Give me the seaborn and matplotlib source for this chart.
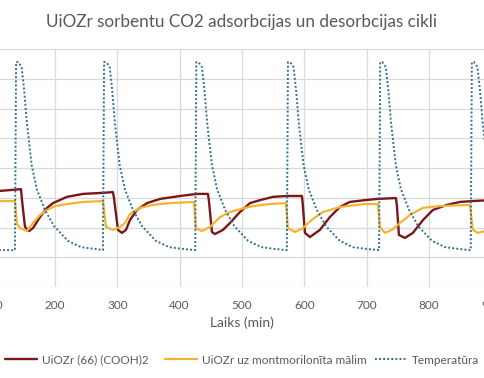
import matplotlib
matplotlib.use("Agg")
import matplotlib.pyplot as plt
import seaborn as sns

# UiOZr (66) (COOH)2 - time (min) and value
red_t = [100, 111.8, 145.5, 147.1, 151.9, 158.3, 164.7, 175.9, 187.2, 196.8, 219.2, 244.9, 272.2, 293.0,
         294.6, 301.1, 307.5, 313.9, 320.3, 331.5, 347.6, 368.4, 400.5, 427.8, 445.4,
         447.0, 451.8, 456.6, 469.5, 480.7, 496.7, 512.8, 528.8, 549.7, 572.1, 596.2,
         597.5, 601.0, 609.0, 625.0, 641.0, 657.0, 673.0, 697.0, 716.5, 747.0,
         748.5, 751.8, 761.4, 774.2, 790.3, 806.3, 828.8, 849.6, 870.5, 897.7, 920.0]
red_v = [3.22, 3.23, 3.29, 2.92, 2.02, 1.88, 1.98, 2.35, 2.66, 2.82, 3.03, 3.13, 3.16, 3.19,
         3.00, 1.92, 1.82, 1.92, 2.25, 2.59, 2.82, 2.96, 3.06, 3.13, 3.13,
         2.90, 1.85, 1.78, 1.92, 2.15, 2.52, 2.82, 2.92, 3.03, 3.06, 3.06,
         2.80, 1.82, 1.68, 1.92, 2.35, 2.69, 2.86, 2.92, 2.96, 2.99,
         2.75, 1.75, 1.65, 1.82, 2.25, 2.59, 2.76, 2.86, 2.89, 2.92, 2.94]

# UiOZr uz montmorilonita malim
yel_t = [100, 111.8, 135.8, 139.0, 143.9, 155.1, 164.7, 175.9, 187.2, 200.0, 219.2, 244.9, 277.0,
         281.8, 293.0, 304.3, 312.3, 320.3, 336.3, 357.2, 384.5, 423.0,
         426.2, 435.8, 448.6, 464.7, 480.7, 504.8, 517.6, 544.9, 570.5,
         573.7, 585.0, 597.8, 613.8, 629.9, 657.1, 697.2, 718.1,
         721.3, 729.3, 740.5, 753.4, 769.4, 790.3, 817.5, 865.7,
         870.5, 878.5, 897.7, 909.0, 925.0]
yel_v = [2.89, 2.89, 2.89, 2.12, 1.98, 1.88, 2.15, 2.42, 2.59, 2.72, 2.79, 2.86, 2.89,
         2.02, 1.92, 2.02, 2.15, 2.45, 2.66, 2.76, 2.82, 2.86,
         1.98, 1.88, 2.02, 2.35, 2.52, 2.66, 2.72, 2.79, 2.82,
         1.98, 1.85, 1.98, 2.29, 2.52, 2.69, 2.79, 2.79,
         2.02, 1.82, 1.92, 2.15, 2.42, 2.66, 2.72, 2.76,
         1.92, 1.82, 1.92, 2.10, 2.40]

# Temperatura
temp_t = [100, 135.8,
          137.6, 141.0, 146.5, 150.6, 155.0, 157.5, 162.6, 170.8, 183.9, 198.4, 220.8, 241.8, 264.1, 277.0,
          278.8, 282.2, 287.7, 291.8, 296.2, 298.7, 303.8, 312.0, 325.1, 339.6, 362.0, 383.0, 405.0, 425.0,
          426.8, 430.2, 435.7, 439.8, 444.2, 446.7, 451.8, 460.0, 473.1, 487.6, 510.0, 531.0, 553.0, 572.0,
          573.8, 577.2, 582.7, 586.8, 591.2, 593.7, 598.8, 607.0, 620.1, 634.6, 657.0, 678.0, 700.0, 720.0,
          721.8, 725.2, 730.7, 734.8, 739.2, 741.7, 746.8, 755.0, 768.1, 782.6, 805.0, 826.0, 848.0, 867.0,
          868.8, 872.2, 877.7, 881.8, 886.2, 888.7, 893.8, 902.0, 915.1]
temp_v = [1.24, 1.24,
          7.56, 7.56, 7.40, 6.62, 5.51, 5.04, 4.10, 3.29, 2.59, 2.05, 1.55, 1.34, 1.28, 1.24,
          7.56, 7.56, 7.40, 6.62, 5.51, 5.04, 4.10, 3.29, 2.59, 2.05, 1.55, 1.34, 1.28, 1.24,
          7.56, 7.56, 7.40, 6.62, 5.51, 5.04, 4.10, 3.29, 2.59, 2.05, 1.55, 1.34, 1.28, 1.24,
          7.56, 7.56, 7.40, 6.62, 5.51, 5.04, 4.10, 3.29, 2.59, 2.05, 1.55, 1.34, 1.28, 1.24,
          7.56, 7.56, 7.40, 6.62, 5.51, 5.04, 4.10, 3.29, 2.59, 2.05, 1.55, 1.34, 1.28, 1.24,
          7.56, 7.56, 7.40, 6.62, 5.51, 5.04, 4.10, 3.29, 2.59]

x_ticks = list(range(0, 1001, 100))
series_names = ["UiOZr (66) (COOH)2", "UiOZr uz montmorilonīta mālim", "Temperatūra"]

sns.set_theme(style="white")
plt.rcParams["font.family"] = ["Lato", "DejaVu Sans"]

grey = "#595959"
fig = plt.figure(figsize=(4.85, 3.78), dpi=100)
ax = fig.add_axes([-0.1437, 0.2407, 1.2852, 0.6296])

sns.lineplot(x=red_t, y=red_v, ax=ax, color="#7b1719", lw=1.7, estimator=None, sort=False,
             label=series_names[0])
sns.lineplot(x=yel_t, y=yel_v, ax=ax, color="#f2b531", lw=1.6, estimator=None, sort=False,
             label=series_names[1])
sns.lineplot(x=temp_t, y=temp_v, ax=ax, color="#33708f", lw=1.4, estimator=None, sort=False,
             linestyle=(0, (1, 1.1)), label=series_names[2])

ax.set_xlim(0, 1000)
ax.set_ylim(0, 8)
ax.set_xticks(x_ticks)
ax.set_xticklabels([str(v) for v in x_ticks], fontsize=8.5, color=grey)
ax.set_yticks(range(0, 9))
ax.tick_params(axis="y", labelleft=False, length=0)
ax.tick_params(axis="x", length=0, pad=9.5)
ax.grid(True, color="#d9d9d9", lw=0.9)
for s in ax.spines.values():
    s.set_visible(False)
ax.set_xlabel("Laiks (min)", fontsize=10, color=grey, labelpad=4)
ax.set_ylabel("")

fig.text(242 / 485, 1 - 22 / 378, "UiOZr sorbentu CO2 adsorbcijas un desorbcijas cikli",
         ha="center", va="center", fontsize=12.3, color=grey)

# legend: one entry per anchor so each sits where the reference has it
ax.get_legend().remove()
handles, labels = ax.get_legend_handles_labels()
for h, lab, x0 in zip(handles, labels, [5, 165, 375]):
    fig.legend([h], [lab], loc="center left", bbox_to_anchor=(x0 / 485, 1 - 360 / 378),
               frameon=False, fontsize=8.5, handlelength=2.7, handletextpad=0.45,
               borderpad=0, borderaxespad=0, labelcolor=grey)

fig.savefig("out.png", dpi=100)
